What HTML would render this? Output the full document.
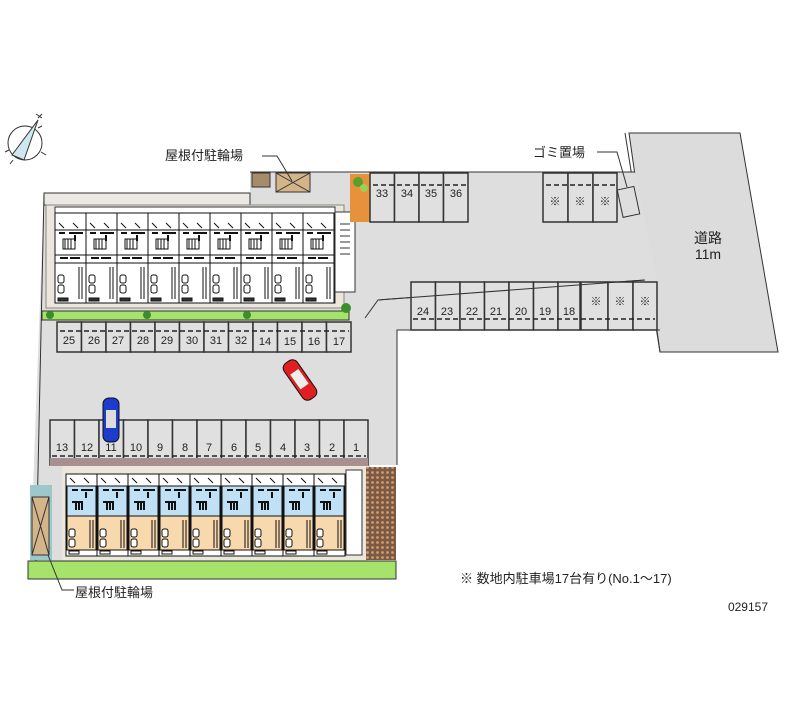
<!DOCTYPE html>
<html><head><meta charset="utf-8"><style>
html,body{margin:0;padding:0;background:#fff;width:800px;height:727px;overflow:hidden}
svg{display:block}
text{font-family:"Liberation Sans","Noto Sans CJK JP",sans-serif;fill:#222}
</style></head><body>
<svg width="800" height="727" viewBox="0 0 800 727" xmlns="http://www.w3.org/2000/svg">
<defs>
<pattern id="hp" width="5" height="5" patternUnits="userSpaceOnUse"><rect width="5" height="5" fill="#7a5a45"/><circle cx="2.5" cy="2.5" r="1.4" fill="#d49a6a"/></pattern>
<g id="ut" stroke="#111" stroke-width="1" fill="#fff">
<rect x="0" y="0" width="31" height="90"/>
<path d="M0 17H31M0 42H31M0 50H31M4 10l5 5M18 10l5 5" fill="none"/>
<rect x="8" y="26" width="12" height="10" fill="none"/>
<path d="M10 26v10M13 26v10M16 26v10" />
<rect x="3" y="62" width="6" height="8" rx="2"/><rect x="3" y="72" width="6" height="8" rx="2"/>
<path d="M24 54v32M27 54v32" fill="none"/>
<path d="M4 20h6M14 20h14M20 22v6M5 45h8M15 45h10" stroke-width="2" fill="none"/>
<rect x="3" y="85" width="10" height="3" fill="#333"/>
</g>
<g id="ub" stroke="#111" stroke-width="1">
<rect x="0" y="0" width="31" height="82" fill="#fff"/>
<rect x="1" y="12" width="29" height="30" fill="#bfe0f5"/>
<rect x="1" y="42" width="29" height="34" fill="#f8d8ad"/>
<path d="M4 4l5 5M18 4l5 5M0 42H31" fill="none"/>
<path d="M6 16h6M15 16h12M20 18v6M6 28h10v8M10 28v8M13 28v8" stroke-width="2" fill="none"/>
<rect x="3" y="55" width="6" height="8" rx="2" fill="#fff"/><rect x="3" y="65" width="6" height="8" rx="2" fill="#fff"/>
<path d="M24 46v28M27 46v28" fill="none"/>
<rect x="3" y="77" width="10" height="3" fill="#fff"/>
</g>
</defs>

<g stroke="#333" fill="none">
<circle cx="25" cy="143" r="17"/>
<path d="M9 150l-4 2M38 128l4-2M41 152l5 3M13 160l-3 4"/>
<path d="M12 155L38 120L24 160Z" fill="#cfe8f0"/>
<path d="M38 118l4-4M36 114l6 4" />
</g>

<polygon points="629,133 740,133 778,352 660,352" fill="#dcdcdc" stroke="#333"/>
<line x1="625" y1="133" x2="660" y2="352" stroke="#333"/>
<text x="708" y="243" font-size="14" text-anchor="middle">道路</text>
<text x="708" y="259" font-size="14" text-anchor="middle">11m</text>

<polygon points="250,172 635,172 657,278 660,330 397,330 397,465 370,465 370,560 30,570 40,300 44,193 250,193" fill="#dedede"/>
<path d="M250,172 H635 M660,330 H397 V465" stroke="#333" fill="none"/>
<path d="M44,193 L36,565" stroke="#333" fill="none"/>
<path d="M365,318 L378,300 L645,280" stroke="#333" fill="none"/>

<rect x="44" y="193" width="206" height="12" fill="#ece9e4" stroke="#333"/>
<rect x="46" y="205" width="298" height="103" fill="#ece6dc" stroke="#888"/>
<rect x="55" y="207" width="280" height="96" fill="#fff" stroke="#333"/>
<use href="#ut" x="55" y="213"/><use href="#ut" x="86" y="213"/><use href="#ut" x="117" y="213"/>
<use href="#ut" x="148" y="213"/><use href="#ut" x="179" y="213"/><use href="#ut" x="210" y="213"/>
<use href="#ut" x="241" y="213"/><use href="#ut" x="272" y="213"/><use href="#ut" x="303" y="213"/>
<rect x="335" y="212" width="20" height="80" fill="#fff" stroke="#333"/>
<path d="M340 224h10M340 230h10M340 236h10M340 242h10M340 248h10M340 254h10" stroke="#333"/>
<rect x="42" y="311" width="307" height="9" fill="#a6e36a" stroke="#333"/>
<circle cx="50" cy="315" r="4" fill="#3b8f2a"/><circle cx="147" cy="315" r="4" fill="#3b8f2a"/><circle cx="247" cy="315" r="4" fill="#3b8f2a"/><circle cx="346" cy="308" r="5" fill="#3b8f2a"/>
<rect x="252" y="173" width="18" height="14" fill="#a58c6a" stroke="#333"/>
<rect x="276" y="173" width="34" height="19" fill="#d4b489" stroke="#333"/>
<path d="M276 173l34 19M310 173l-34 19" stroke="#333"/>
<rect x="350" y="174" width="20" height="48" fill="#e7913d"/>
<circle cx="358" cy="182" r="5" fill="#5aa02c"/><circle cx="364" cy="188" r="4" fill="#9ad052"/>
<text x="165" y="160" font-size="13">屋根付駐輪場</text>
<path d="M262 156H277L292 181" stroke="#333" fill="none"/>

<g stroke="#333" stroke-width="1.5" fill="#e0e0e0">
<rect x="370" y="173" width="24.5" height="49"/><rect x="394.5" y="173" width="24.5" height="49"/><rect x="419" y="173" width="24.5" height="49"/><rect x="443.5" y="173" width="24.5" height="49"/>
<rect x="543" y="173" width="25" height="49"/><rect x="568" y="173" width="25" height="49"/><rect x="593" y="173" width="24" height="49"/>
</g>
<g stroke="#222" stroke-width="1.5" stroke-dasharray="5,3"><path d="M373 185H467M546 185H616"/></g>
<g font-size="11" text-anchor="middle">
<text x="382" y="197">33</text><text x="407" y="197">34</text><text x="431" y="197">35</text><text x="456" y="197">36</text>
<text x="555" y="205">※</text><text x="580" y="205">※</text><text x="605" y="205">※</text>
</g>
<rect x="620" y="188" width="17" height="28" fill="none" stroke="#333" transform="rotate(-12 628 202)"/>
<text x="533" y="157" font-size="13">ゴミ置場</text>
<path d="M597 152H617L627 187" stroke="#333" fill="none"/>

<g stroke="#333" stroke-width="1.5" fill="#e0e0e0">
<rect x="411" y="282" width="24.5" height="48"/><rect x="435.5" y="282" width="24.5" height="48"/><rect x="460" y="282" width="24.5" height="48"/><rect x="484.5" y="282" width="24.5" height="48"/><rect x="509" y="282" width="24.5" height="48"/><rect x="533.5" y="282" width="24.5" height="48"/><rect x="558" y="282" width="22" height="48"/>
<rect x="581" y="282" width="27" height="48"/><rect x="608" y="282" width="25" height="48"/><rect x="633" y="282" width="24" height="48"/>
</g>
<path d="M378 300L645 280" stroke="#333" fill="none"/>
<g stroke="#222" stroke-width="1.5" stroke-dasharray="5,3"><path d="M413 319H655"/></g>
<g font-size="11" text-anchor="middle">
<text x="423" y="315">24</text><text x="447" y="315">23</text><text x="472" y="315">22</text><text x="496" y="315">21</text><text x="521" y="315">20</text><text x="545" y="315">19</text><text x="569" y="315">18</text>
<text x="596" y="305">※</text><text x="620" y="305">※</text><text x="645" y="305">※</text>
</g>

<g stroke="#333" stroke-width="1.5" fill="#e0e0e0">
<rect x="57" y="322" width="24.5" height="30"/><rect x="81.5" y="322" width="24.5" height="30"/><rect x="106" y="322" width="24.5" height="30"/><rect x="130.5" y="322" width="24.5" height="30"/><rect x="155" y="322" width="24.5" height="30"/><rect x="179.5" y="322" width="24.5" height="30"/><rect x="204" y="322" width="24.5" height="30"/><rect x="228.5" y="322" width="24.5" height="30"/><rect x="253" y="322" width="24.5" height="30"/><rect x="277.5" y="322" width="24.5" height="30"/><rect x="302" y="322" width="24.5" height="30"/><rect x="326.5" y="322" width="24.5" height="30"/>
</g>
<g stroke="#222" stroke-width="1.5" stroke-dasharray="5,3"><path d="M60 331H349"/></g>
<g font-size="11" text-anchor="middle">
<text x="69" y="344">25</text><text x="94" y="344">26</text><text x="118" y="344">27</text><text x="143" y="344">28</text><text x="167" y="344">29</text><text x="192" y="344">30</text><text x="216" y="344">31</text><text x="241" y="344">32</text><text x="265" y="345">14</text><text x="290" y="345">15</text><text x="314" y="345">16</text><text x="339" y="345">17</text>
</g>

<g stroke="#333" stroke-width="1.5" fill="#e0e0e0">
<rect x="50" y="420" width="24.5" height="45"/><rect x="74.5" y="420" width="24.5" height="45"/><rect x="99" y="420" width="24.5" height="45"/><rect x="123.5" y="420" width="24.5" height="45"/><rect x="148" y="420" width="24.5" height="45"/><rect x="172.5" y="420" width="24.5" height="45"/><rect x="197" y="420" width="24.5" height="45"/><rect x="221.5" y="420" width="24.5" height="45"/><rect x="246" y="420" width="24.5" height="45"/><rect x="270.5" y="420" width="24.5" height="45"/><rect x="295" y="420" width="24.5" height="45"/><rect x="319.5" y="420" width="24.5" height="45"/><rect x="344" y="420" width="24" height="45"/>
</g>
<rect x="50" y="458" width="318" height="8" fill="#a89090"/>
<g stroke="#222" stroke-width="1.5" stroke-dasharray="5,3"><path d="M52 456H366"/></g>
<g font-size="11" text-anchor="middle">
<text x="62" y="451">13</text><text x="87" y="451">12</text><text x="111" y="451">11</text><text x="136" y="451">10</text><text x="160" y="451">9</text><text x="185" y="451">8</text><text x="209" y="451">7</text><text x="234" y="451">6</text><text x="258" y="451">5</text><text x="283" y="451">4</text><text x="307" y="451">3</text><text x="332" y="451">2</text><text x="356" y="451">1</text>
</g>

<g transform="translate(111 420)">
<rect x="-8" y="-22" width="16" height="44" rx="6" fill="#1c3ccc" stroke="#111"/>
<rect x="-5" y="-10" width="10" height="18" fill="#ddd"/>
</g>
<g transform="translate(300 380) rotate(-35)">
<rect x="-8" y="-22" width="16" height="44" rx="6" fill="#e02020" stroke="#111"/>
<rect x="-5" y="-10" width="10" height="18" fill="#eee"/>
</g>

<rect x="62" y="466" width="306" height="95" fill="#ece6dc"/>
<use href="#ub" x="66" y="474"/><use href="#ub" x="97" y="474"/><use href="#ub" x="128" y="474"/>
<use href="#ub" x="159" y="474"/><use href="#ub" x="190" y="474"/><use href="#ub" x="221" y="474"/>
<use href="#ub" x="252" y="474"/><use href="#ub" x="283" y="474"/><use href="#ub" x="314" y="474"/>
<rect x="346" y="470" width="16" height="85" fill="#fff" stroke="#333"/>
<rect x="366" y="467" width="30" height="93" fill="url(#hp)"/>
<rect x="30" y="485" width="22" height="75" fill="#9cc8cc"/>
<rect x="32" y="497" width="17" height="58" fill="#d4b489" stroke="#333"/>
<path d="M32 497l17 58M49 497l-17 58" stroke="#333"/>
<rect x="28" y="561" width="368" height="18" fill="#a6e36a" stroke="#333"/>
<text x="75" y="597" font-size="13">屋根付駐輪場</text>
<path d="M48 555L62 590H74" stroke="#333" fill="none"/>

<text x="460" y="583" font-size="13">※ 数地内駐車場17台有り(No.1～17)</text>
<text x="768" y="611" font-size="12" text-anchor="end">029157</text>
</svg>
</body></html>
